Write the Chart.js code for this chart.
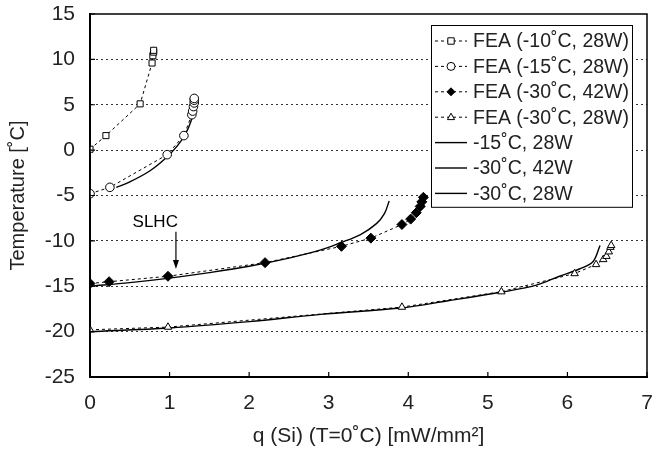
<!DOCTYPE html>
<html>
<head>
<meta charset="utf-8">
<script src="https://cdn.jsdelivr.net/npm/chart.js@4.4.0/dist/chart.umd.min.js"></script>
<style>
  body { margin: 0; background: #fff; }
</style>
</head>
<body>
<canvas id="myChart" width="654" height="450"></canvas>
<script>
// FEA points
const fea10X = [0, 0.2, 0.63, 0.78, 0.79, 0.8, 0.8];
const fea10Y = [0.1, 1.6, 5.1, 9.6, 10.4, 10.8, 11.0];
const fea15X = [0, 0.25, 0.97, 1.18, 1.28, 1.29, 1.3, 1.31, 1.31, 1.31];
const fea15Y = [-4.8, -4.1, -0.5, 1.6, 3.9, 4.3, 4.8, 5.2, 5.5, 5.7];
const fea30hX = [0, 0.24, 0.98, 2.2, 3.16, 3.53, 3.92, 4.03, 4.1, 4.15, 4.17, 4.19];
const fea30hY = [-14.7, -14.5, -13.9, -12.4, -10.6, -9.7, -8.2, -7.6, -6.9, -6.2, -5.7, -5.2];
const fea30lX = [0, 0.98, 3.92, 5.17, 6.09, 6.36, 6.45, 6.49, 6.52, 6.54, 6.55];
const fea30lY = [-19.8, -19.5, -17.3, -15.6, -13.6, -12.6, -12.05, -11.7, -11.2, -10.7, -10.5];

// analytic curves
const an15X = [0.33, 0.5, 0.75, 0.95, 1.1, 1.2, 1.27, 1.3, 1.32];
const an15Y = [-4.1, -3.5, -2.3, -0.9, 0.5, 1.8, 3.2, 4.5, 5.6];
const an30hX = [0, 0.5, 1, 1.5, 2, 2.5, 2.9, 3.15, 3.4, 3.6, 3.7, 3.76];
const an30hY = [-15.0, -14.6, -14.1, -13.5, -12.8, -11.9, -11.0, -10.2, -9.3, -8.1, -7.0, -5.6];
const an30lX = [0, 1, 2, 2.9, 3.9, 4.5, 5.2, 5.6, 5.9, 6.15, 6.32, 6.41];
const an30lY = [-20.0, -19.6, -18.9, -18.1, -17.4, -16.6, -15.6, -14.9, -13.9, -13.1, -12.3, -10.5];

const labels = ["FEA (-10˚C, 28W)", "FEA (-15˚C, 28W)", "FEA (-30˚C, 42W)", "FEA (-30˚C, 28W)",
                "-15˚C, 28W", "-30˚C, 42W", "-30˚C, 28W"];

function pts(xs, ys) { return xs.map((x, i) => ({x: x, y: ys[i]})); }

function fea(label, xs, ys, style, fill) {
  return {
    label: label, data: pts(xs, ys), showLine: true,
    borderColor: "#000", borderWidth: 1, borderDash: [3, 3],
    pointStyle: style, pointRadius: style === "rectRot" ? 5 : 4.3,
    pointBorderWidth: 1, pointBorderColor: "#000", pointBackgroundColor: fill
  };
}
function curve(label, xs, ys) {
  return {
    label: label, data: pts(xs, ys), showLine: true,
    borderColor: "#000", borderWidth: 1.4, pointRadius: 0, tension: 0.35
  };
}

function marker(ctx, style, x, y, r, fill) {
  ctx.save();
  ctx.beginPath();
  ctx.fillStyle = fill; ctx.strokeStyle = "#000"; ctx.lineWidth = 1; ctx.setLineDash([]);
  if (style === "rect") ctx.rect(x - r * 0.8, y - r * 0.8, r * 1.6, r * 1.6);
  else if (style === "circle") ctx.arc(x, y, r, 0, Math.PI * 2);
  else if (style === "rectRot") { ctx.moveTo(x, y - r); ctx.lineTo(x + r, y); ctx.lineTo(x, y + r); ctx.lineTo(x - r, y); ctx.closePath(); }
  else if (style === "triangle") { ctx.moveTo(x, y - r); ctx.lineTo(x + r * 0.9, y + r * 0.6); ctx.lineTo(x - r * 0.9, y + r * 0.6); ctx.closePath(); }
  ctx.fill(); ctx.stroke();
  ctx.restore();
}

const boxPlugin = {
  id: "boxPlugin",
  afterDraw(chart) {
    const {ctx, chartArea: a, scales: {x, y}} = chart;
    ctx.save();
    ctx.strokeStyle = "#000";
    ctx.lineWidth = 1.5;
    ctx.strokeRect(a.left, a.top, a.right - a.left, a.bottom - a.top);
    ctx.lineWidth = 1.2;
    ctx.beginPath();
    x.ticks.forEach(t => { const px = x.getPixelForValue(t.value); ctx.moveTo(px, a.bottom); ctx.lineTo(px, a.bottom - 5); });
    y.ticks.forEach(t => { const py = y.getPixelForValue(t.value); ctx.moveTo(a.left, py); ctx.lineTo(a.left + 5, py); });
    ctx.stroke();

    // SLHC note
    ctx.fillStyle = "#000";
    ctx.font = "17px 'Liberation Sans', Arial, sans-serif";
    ctx.textAlign = "center"; ctx.textBaseline = "middle";
    ctx.fillText("SLHC", x.getPixelForValue(0.82), y.getPixelForValue(-8.0));
    const ax = x.getPixelForValue(1.08);
    const ay0 = y.getPixelForValue(-9.0), ay1 = y.getPixelForValue(-13.1);
    ctx.lineWidth = 1.2;
    ctx.beginPath(); ctx.moveTo(ax, ay0); ctx.lineTo(ax, ay1 - 4); ctx.stroke();
    ctx.beginPath(); ctx.moveTo(ax, ay1); ctx.lineTo(ax - 3, ay1 - 9); ctx.lineTo(ax + 3, ay1 - 9); ctx.closePath(); ctx.fill();

    // legend
    const lx = a.right - 15, lw = 201, ly = a.top + 11, rowH = 25.4;
    const left = lx - lw;
    ctx.fillStyle = "#fff";
    ctx.fillRect(left, ly, lw, rowH * 7 + 4);
    ctx.lineWidth = 1;
    ctx.strokeRect(left + 0.5, ly + 0.5, lw, rowH * 7 + 4);
    chart.data.datasets.forEach((ds, i) => {
      const cy = ly + 16 + i * rowH;
      ctx.save();
      ctx.strokeStyle = "#000";
      ctx.lineWidth = ds.borderWidth;
      ctx.setLineDash(ds.borderDash || []);
      ctx.beginPath(); ctx.moveTo(left + 4, cy); ctx.lineTo(left + 36, cy); ctx.stroke();
      ctx.restore();
      if (ds.pointRadius > 0) marker(ctx, ds.pointStyle, left + 20, cy, 4, ds.pointBackgroundColor);
      ctx.fillStyle = "#222";
      ctx.font = "19.5px 'Liberation Sans', Arial, sans-serif";
      ctx.textAlign = "left"; ctx.textBaseline = "middle";
      ctx.fillText(ds.label, left + 42, cy + 1);
    });
    ctx.restore();
  }
};

Chart.defaults.font.family = "'Liberation Sans', Arial, sans-serif";
Chart.defaults.font.size = 21;
Chart.defaults.color = "#222";

new Chart("myChart", {
  type: "scatter",
  data: {
    datasets: [
      fea(labels[0], fea10X, fea10Y, "rect", "#fff"),
      fea(labels[1], fea15X, fea15Y, "circle", "#fff"),
      fea(labels[2], fea30hX, fea30hY, "rectRot", "#000"),
      fea(labels[3], fea30lX, fea30lY, "triangle", "#fff"),
      curve(labels[4], an15X, an15Y),
      curve(labels[5], an30hX, an30hY),
      curve(labels[6], an30lX, an30lY)
    ]
  },
  options: {
    responsive: false,
    animation: false,
    devicePixelRatio: 1,
    layout: {padding: {top: 14, right: 7, left: 0, bottom: 0}},
    plugins: {legend: {display: false}, tooltip: {enabled: false}},
    scales: {
      x: {
        type: "linear", min: 0, max: 7,
        ticks: {stepSize: 1, padding: 6, color: "#222"},
        grid: {display: false},
        border: {display: true, color: "#000", width: 2},
        title: {display: true, text: "q (Si) (T=0˚C) [mW/mm²]", font: {size: 21}, color: "#222", padding: {top: 0, bottom: 1}},
        afterFit(s) { s.height = 73; s.paddingLeft = 0; s.paddingRight = 0; }
      },
      y: {
        min: -25, max: 15,
        ticks: {stepSize: 5, padding: 15, color: "#222"},
        grid: {
          drawTicks: false, lineWidth: 1,
          color: c => (c.tick && (c.tick.value === 15 || c.tick.value === -25)) ? "rgba(0,0,0,0)" : "#333"
        },
        border: {display: true, color: "#000", width: 2, dash: [2, 3]},
        title: {display: true, text: "Temperature [˚C]", font: {size: 20}, color: "#222", padding: {top: 6, bottom: 0}},
        afterFit(s) { s.width = 90; s.paddingTop = 0; s.paddingBottom = 0; }
      }
    }
  },
  plugins: [boxPlugin]
});
</script>
</body>
</html>
